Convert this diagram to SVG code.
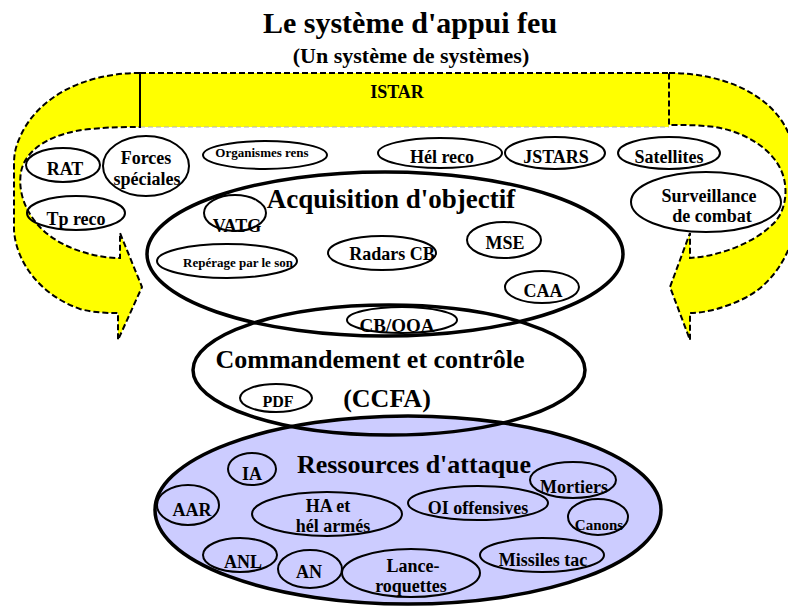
<svg xmlns="http://www.w3.org/2000/svg" width="788" height="607" viewBox="0 0 788 607">
  <style>
    text { font-family: "Liberation Serif", "Times New Roman", serif; font-weight: bold; text-anchor: middle; fill: #000; }
    .f18 { font-size: 18px; }
    .f13 { font-size: 13px; }
    .f26 { font-size: 26px; }
    .ring { fill: none; stroke: #000; stroke-width: 2; }
    .zone { fill: none; stroke: #000; stroke-width: 3.5; }
    .band { fill: #ffff00; stroke: #000; stroke-width: 2; stroke-dasharray: 6 3; }
  </style>

  <rect width="788" height="607" fill="#fff"/>

  <!-- Title -->
  <g id="title">
    <text x="410" y="33" style="font-size:30px">Le système d'appui feu</text>
    <text x="411" y="63" style="font-size:22px">(Un système de systèmes)</text>
  </g>

  <!-- ISTAR loop: band across the top with curved arrows down each side -->
  <g id="connectors">
    <rect x="140" y="73" width="529" height="54" fill="#ffff00"/>
    <line x1="140" y1="73" x2="669" y2="73" stroke="#000" stroke-width="2" stroke-dasharray="6 3"/>
    <line x1="140" y1="127" x2="669" y2="127" stroke="#b4b4b4" stroke-width="1" stroke-dasharray="5 3"/>
    <path class="band" d="M140,73 C80,73 36,100 20,137 C15,148 14,155 14,165 L14,230 C16,262 40,295 80,309 C95,313 108,313 118,313 L118,340 L142,287 L120,233 L120,258 C90,258 55,245 38,225 C24,209 18,190 21,172 C25,150 50,133 90,129 C110,127 125,127 140,127 Z"/>
    <line x1="140" y1="73" x2="140" y2="127" stroke="#000" stroke-width="2"/>
    <path class="band" d="M669,73 C725,73 770,95 787,130 C797,150 800,175 799,200 C798,240 780,280 745,298 C725,308 705,313 690,313 L690,340 L670,287 L690,233 L690,258 C720,256 755,243 775,222 C788,207 788,183 780,168 C770,148 745,132 715,127 C700,125 685,125 669,125 Z"/>
    <text x="397" y="98" class="f18">ISTAR</text>
  </g>

  <!-- Intelligence sources -->
  <g id="rat"><ellipse class="ring" cx="63" cy="165" rx="37" ry="17"/><text x="65" y="175" class="f18">RAT</text></g>
  <g id="forces-speciales"><ellipse class="ring" cx="146" cy="166" rx="43" ry="30"/><text x="146" y="164" class="f18">Forces</text><text x="147" y="185" class="f18">spéciales</text></g>
  <g id="organismes-rens"><ellipse class="ring" cx="265" cy="155" rx="62" ry="14"/><text x="262" y="157" class="f13">Organismes rens</text></g>
  <g id="hel-reco"><ellipse class="ring" cx="440" cy="153" rx="62" ry="15"/><text x="442" y="163" class="f18">Hél reco</text></g>
  <g id="jstars"><ellipse class="ring" cx="555" cy="153" rx="50" ry="16"/><text x="556" y="163" class="f18">JSTARS</text></g>
  <g id="satellites"><ellipse class="ring" cx="669" cy="153" rx="51" ry="16"/><text x="669" y="163" class="f18">Satellites</text></g>
  <g id="surveillance"><ellipse class="ring" cx="706" cy="202" rx="75" ry="30"/><text x="709" y="202" class="f18">Surveillance</text><text x="712" y="222" class="f18">de combat</text></g>
  <g id="tp-reco"><ellipse class="ring" cx="76" cy="213" rx="49" ry="17"/><text x="76" y="225" class="f18">Tp reco</text></g>

  <!-- Attack resources -->
  <g id="ressources">
    <ellipse cx="408" cy="510" rx="253" ry="94" fill="#ccccff" stroke="#000" stroke-width="3.5"/>
    <text x="414" y="473" class="f26">Ressources d'attaque</text>
  </g>
  <g id="ia"><ellipse class="ring" cx="252" cy="469" rx="24" ry="16"/><text x="252" y="480" class="f18">IA</text></g>
  <g id="aar"><ellipse class="ring" cx="188" cy="505" rx="31" ry="20"/><text x="192" y="516" class="f18">AAR</text></g>
  <g id="ha"><ellipse class="ring" cx="327" cy="514" rx="75" ry="22"/><text x="328" y="512" class="f18">HA et</text><text x="333" y="532" class="f18">hél armés</text></g>
  <g id="oi"><ellipse class="ring" cx="478" cy="503" rx="70" ry="17"/><text x="478" y="514" class="f18">OI offensives</text></g>
  <g id="mortiers"><ellipse class="ring" cx="573" cy="480" rx="43" ry="18"/><text x="574" y="493" class="f18">Mortiers</text></g>
  <g id="canons"><ellipse class="ring" cx="598" cy="517" rx="30" ry="18"/><text x="599" y="530" style="font-size:15px">Canons</text></g>
  <g id="anl"><ellipse class="ring" cx="240" cy="555" rx="37" ry="17"/><text x="243" y="568" class="f18">ANL</text></g>
  <g id="an"><ellipse class="ring" cx="310" cy="569" rx="32" ry="19"/><text x="309" y="578" class="f18">AN</text></g>
  <g id="lance-roquettes"><ellipse class="ring" cx="411" cy="573" rx="69" ry="24"/><text x="413" y="572" class="f18">Lance-</text><text x="411" y="592" class="f18">roquettes</text></g>
  <g id="missiles"><ellipse class="ring" cx="542" cy="555" rx="62" ry="17"/><text x="543" y="566" class="f18">Missiles tac</text></g>

  <!-- Command and control -->
  <g id="commandement">
    <ellipse class="zone" cx="389" cy="370" rx="196" ry="65"/>
    <text x="370" y="368" class="f26">Commandement et contrôle</text>
    <text x="387" y="407" class="f26">(CCFA)</text>
  </g>
  <g id="pdf"><ellipse class="ring" cx="276" cy="398" rx="36" ry="14"/><text x="278" y="407" style="font-size:16px">PDF</text></g>

  <!-- Target acquisition -->
  <g id="acquisition">
    <ellipse class="zone" cx="385" cy="254" rx="238" ry="82"/>
    <text x="391" y="208" style="font-size:27px">Acquisition d'objectif</text>
  </g>
  <g id="vatg"><ellipse class="ring" cx="235" cy="213" rx="31" ry="18"/><text x="237" y="232" class="f18">VATG</text></g>
  <g id="reperage"><ellipse class="ring" cx="227" cy="261" rx="70" ry="17"/><text x="238" y="267" class="f13">Repérage par le son</text></g>
  <g id="radars-cb"><ellipse class="ring" cx="382" cy="253" rx="54" ry="17"/><text x="392" y="260" class="f18">Radars CB</text></g>
  <g id="mse"><ellipse class="ring" cx="504" cy="240" rx="37" ry="18"/><text x="505" y="249" class="f18">MSE</text></g>
  <g id="caa"><ellipse class="ring" cx="542" cy="287" rx="37" ry="16"/><text x="543" y="297" class="f18">CAA</text></g>
  <g id="cb-ooa"><ellipse class="ring" cx="402" cy="320" rx="55" ry="13"/><text x="397" y="332" style="font-size:19px">CB/OOA</text></g>
</svg>
